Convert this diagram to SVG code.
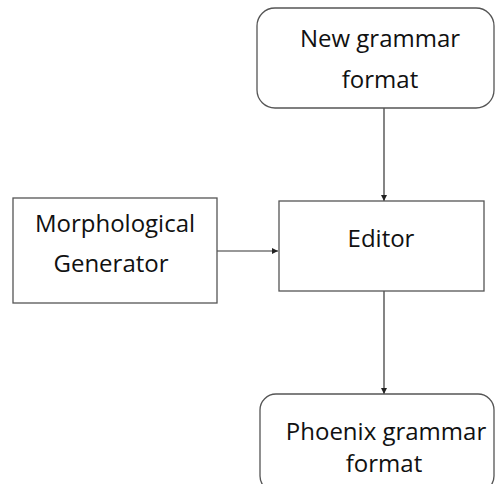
<svg xmlns="http://www.w3.org/2000/svg" width="496" height="484" viewBox="0 0 496 484">
<style>
.box{fill:#fff;stroke:#555;stroke-width:1.3}
.t{font-family:"Open Sans","Liberation Sans",sans-serif;font-size:24px;fill:#111;text-anchor:middle}
.c{stroke:#333;stroke-width:1.2;fill:none}
</style>
<defs>
<marker id="ah" viewBox="0 0 10 10" refX="10" refY="5" markerWidth="6" markerHeight="6" markerUnits="userSpaceOnUse" orient="auto">
<path d="M0,0 L10,5 L0,10 z" fill="#222"/>
</marker>
</defs>
<rect width="496" height="484" fill="#fff"/>
<g id="connectors">
<line class="c" x1="384" y1="108" x2="384" y2="201" marker-end="url(#ah)"/>
<line class="c" x1="217" y1="251" x2="278" y2="251" marker-end="url(#ah)"/>
<line class="c" x1="384" y1="291" x2="384" y2="394" marker-end="url(#ah)"/>
</g>
<g id="new-grammar">
<rect class="box" x="257" y="8" width="237" height="100" rx="18"/>
<text class="t" x="380" y="47">New grammar</text>
<text class="t" x="380" y="88">format</text>
</g>
<g id="morph">
<rect class="box" x="13" y="198" width="204" height="105"/>
<text class="t" x="115" y="232">Morphological</text>
<text class="t" x="111" y="272">Generator</text>
</g>
<g id="editor">
<rect class="box" x="279" y="201" width="205" height="90"/>
<text class="t" x="381" y="247">Editor</text>
</g>
<g id="phoenix">
<rect class="box" x="260" y="394" width="234" height="98" rx="16"/>
<text class="t" x="386" y="440">Phoenix grammar</text>
<text class="t" x="384" y="472">format</text>
</g>
</svg>
